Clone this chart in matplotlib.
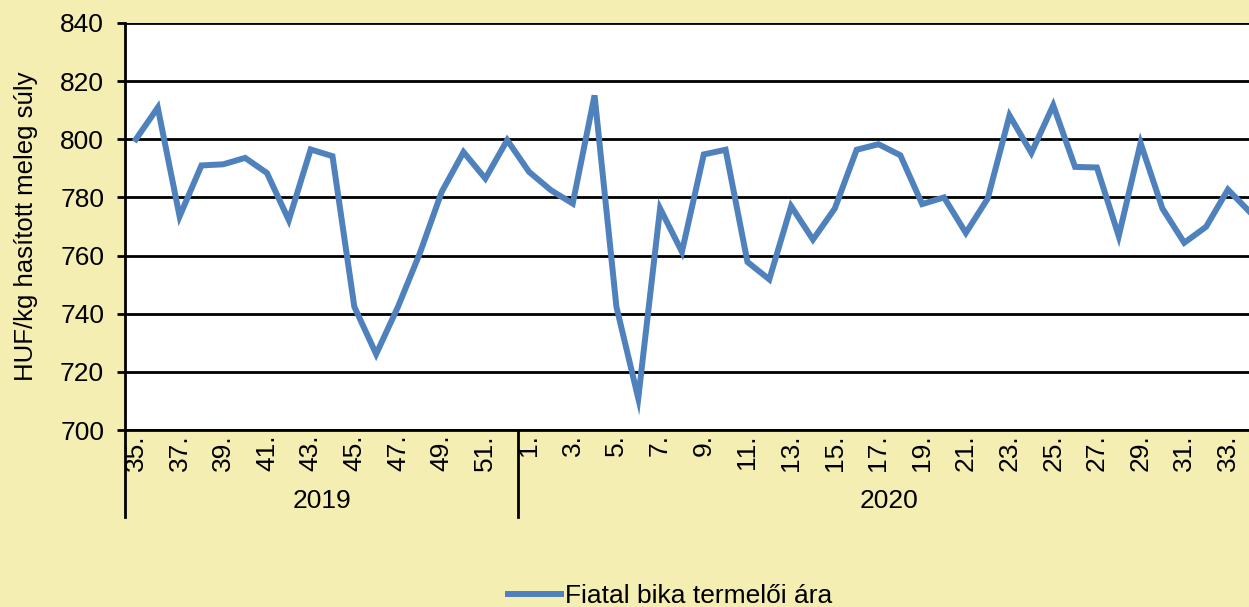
import matplotlib
matplotlib.use("Agg")
import matplotlib.pyplot as plt
import matplotlib.transforms as mtransforms

plt.rcParams['font.family'] = ['Liberation Sans', 'DejaVu Sans']

weeks_2019 = [35, 36, 37, 38, 39, 40, 41, 42, 43, 44, 45, 46, 47, 48, 49, 50, 51, 52]
weeks_2020 = list(range(1, 35))
prices_2019 = [800.0, 810.9, 773.5, 791.0, 791.4, 793.6, 788.4, 772.2, 796.5, 794.2,
               742.4, 726.1, 742.4, 760.8, 781.9, 795.6, 786.5, 799.7]
prices_2020 = [788.8, 782.5, 777.9, 815.1, 742.4, 710.9, 776.2, 761.3, 794.8, 796.4,
               757.8, 751.8, 777.0, 765.5, 776.2, 796.4, 798.3, 794.5, 777.7, 780.0,
               767.8, 779.6, 808.2, 795.3, 811.7, 790.5, 790.3, 766.7, 798.7, 776.2,
               764.4, 769.9, 782.7, 775.0]
years = ["2019", "2020"]
y_ticks = [700, 720, 740, 760, 780, 800, 820, 840]
series_name = "Fiatal bika termelői ára"
y_label = "HUF/kg hasított meleg súly"

labels = [f"{w}." for w in weeks_2019] + [f"{w}." for w in weeks_2020]
values = prices_2019 + prices_2020
n = len(values)
xs = list(range(n))

W, H = 1249, 607
bg = '#F5EEB3'
fs = 19
fig = plt.figure(figsize=(W / 100, H / 100), dpi=100, facecolor=bg)
left, right, top, bottom = 125, 1260.7, 23, 430
ax = fig.add_axes([left / W, 1 - bottom / H, (right - left) / W, (bottom - top) / H])
ax.set_facecolor('white')

ax.plot(xs, values, color='#4F81BD', lw=4.3, solid_joinstyle='miter', zorder=3,
        label=series_name, clip_on=False)

ax.set_xlim(-0.5, n - 0.5)
ax.set_ylim(700, 840)
ax.set_yticks(y_ticks)
ax.yaxis.grid(True, color='black', lw=2.0)
ax.set_axisbelow(True)
ax.tick_params(axis='y', length=6, width=2.0, pad=9, labelsize=fs, direction='out')
ax.set_xticks(xs[::2])
ax.set_xticklabels(labels[::2], rotation=90, fontsize=fs, va='top')
ax.tick_params(axis='x', length=0, pad=3)

for s in ['top', 'right']:
    ax.spines[s].set_visible(False)
for s in ['left', 'bottom']:
    ax.spines[s].set_color('black')
    ax.spines[s].set_linewidth(2.0)

ax.set_ylabel(y_label, fontsize=18.5, labelpad=16)

# group separators and year labels
trans = mtransforms.blended_transform_factory(ax.transData, ax.transAxes)
ybot = -(517 - bottom) / (bottom - top)
n19 = len(weeks_2019)
for xb in [-0.5, n19 - 0.5]:
    ax.plot([xb, xb], [0, ybot], color='black', lw=2.0, transform=trans, clip_on=False)
ylab = -(501 - bottom) / (bottom - top)
ax.text((n19 - 1) / 2, ylab, years[0], transform=trans, ha='center', va='center', fontsize=fs)
ax.text((n19 - 0.5 + n - 0.5) / 2, ylab, years[1], transform=trans, ha='center', va='center', fontsize=fs)

fig.legend(loc='center', bbox_to_anchor=(670 / W, 1 - 596 / H), frameon=False,
           fontsize=19, handlelength=2.0, handletextpad=0.15)

fig.savefig('out.png', dpi=100, facecolor=bg)
